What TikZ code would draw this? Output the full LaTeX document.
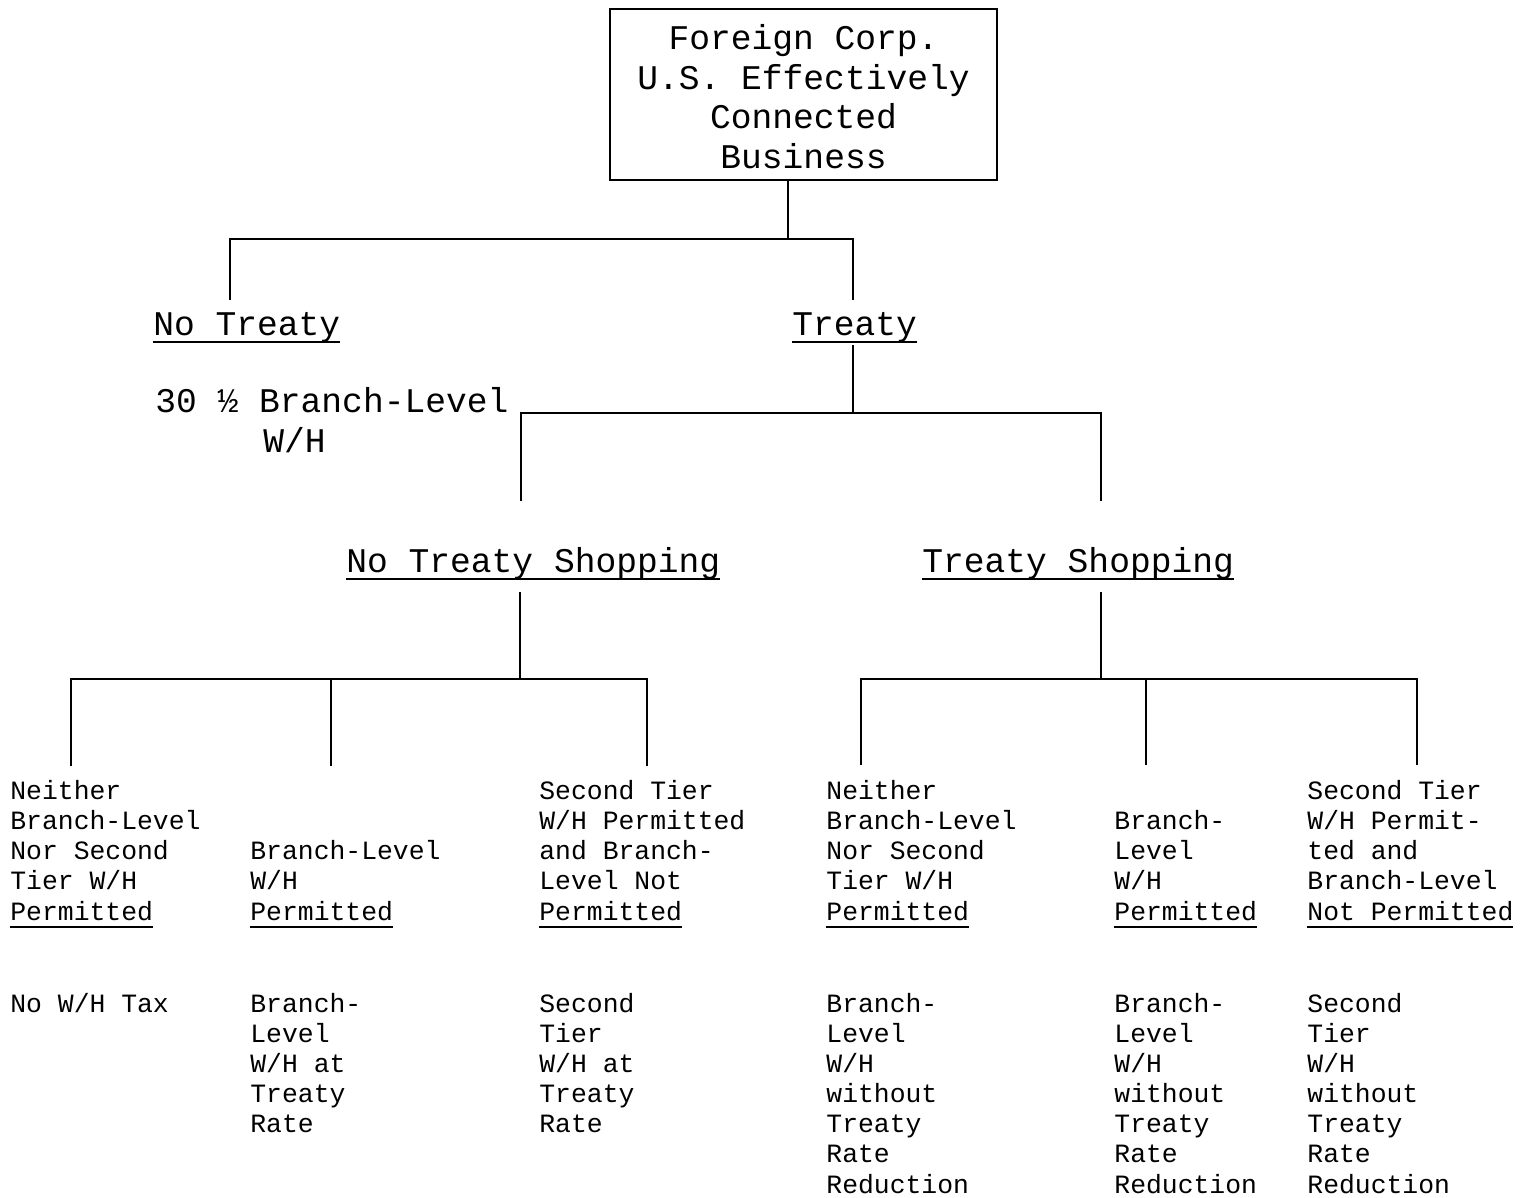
\documentclass[tikz,border=0pt]{standalone}
\usepackage{fontspec}
\setmainfont{Liberation Mono}
\newcommand\ulx[1]{\setbox0\hbox{#1}\rlap{\rule[-4pt]{\wd0}{1pt}}\box0}
\tikzset{
  big/.style={font=\fontsize{17.3}{19.8}\selectfont, inner sep=0pt, anchor=base west, align=left},
  small/.style={font=\fontsize{13.2}{15.08}\selectfont, inner sep=0pt, anchor=base west, align=left},
  conn/.style={line width=1pt},
}
\begin{document}
\begin{tikzpicture}[x=0.5pt,y=-0.5pt]
\useasboundingbox[fill=white] (0,0) rectangle (1530,1198);
% top box
\node[draw, line width=1pt, minimum width=193.5pt, minimum height=85.5pt, inner sep=0pt,
      font=\fontsize{17.3}{19.8}\selectfont, align=center, text depth=0pt] (box) at (803.5,94.5)
  {\rule{0pt}{14.5pt}Foreign Corp.\\U.S. Effectively\\Connected\\Business};
% level 1 (nodes placed at the baseline of their last line)
\node[big] (nt) at (153,335) {\ulx{No Treaty}};
\node[big] (tr) at (792,335) {\ulx{Treaty}};
\node[big] (rate) at (155,452) {30 ½ Branch-Level\\\hspace*{54pt}W/H};
% level 2
\node[big] (nts) at (346,572) {\ulx{No Treaty Shopping}};
\node[big] (ts) at (922,572) {\ulx{Treaty Shopping}};
% level 3 headers
\node[small] (h1) at (10,920) {Neither\\Branch-Level\\Nor Second\\Tier W/H\\\ulx{Permitted}};
\node[small] (h2) at (250,920) {Branch-Level\\W/H\\\ulx{Permitted}};
\node[small] (h3) at (539,920) {Second Tier\\W/H Permitted\\and Branch-\\Level Not\\\ulx{Permitted}};
\node[small] (h4) at (826,920) {Neither\\Branch-Level\\Nor Second\\Tier W/H\\\ulx{Permitted}};
\node[small] (h5) at (1114,920) {Branch-\\Level\\W/H\\\ulx{Permitted}};
\node[small] (h6) at (1307,920) {Second Tier\\W/H Permit-\\ted and\\Branch-Level\\\ulx{Not Permitted}};
% results
\node[small] (r1) at (10,1012) {No W/H Tax};
\node[small] (r2) at (250,1132.7) {Branch-\\Level\\W/H at\\Treaty\\Rate};
\node[small] (r3) at (539,1132.7) {Second\\Tier\\W/H at\\Treaty\\Rate};
\node[small] (r4) at (826,1193) {Branch-\\Level\\W/H\\without\\Treaty\\Rate\\Reduction};
\node[small] (r5) at (1114,1193) {Branch-\\Level\\W/H\\without\\Treaty\\Rate\\Reduction};
\node[small] (r6) at (1307,1193) {Second\\Tier\\W/H\\without\\Treaty\\Rate\\Reduction};
% connector coordinates
\coordinate (j0) at (788,239);
\coordinate (c1) at (230,300);
\coordinate (c2) at (853,300);
\coordinate (t1) at (853,345);
\coordinate (b1) at (853,413);
\coordinate (d1) at (521,501);
\coordinate (d2) at (1101,501);
\coordinate (s1) at (520,592);
\coordinate (k1) at (520,679);
\coordinate (e1) at (71,766);
\coordinate (e2) at (331,766);
\coordinate (e3) at (647,766);
\coordinate (s2) at (1101,592);
\coordinate (k2) at (1101,679);
\coordinate (f1) at (861,765);
\coordinate (f2) at (1146,765);
\coordinate (f3) at (1417,765);
% connectors
\draw[conn] (box.south -| j0) -- (j0);
\draw[conn] (c1) |- (j0) -| (c2);
\draw[conn] (t1) -- (b1);
\draw[conn] (d1) |- (b1) -| (d2);
\draw[conn] (s1) -- (k1);
\draw[conn] (e1) |- (k1) -| (e3);
\draw[conn] (e2) -- (e2 |- k1);
\draw[conn] (s2) -- (k2);
\draw[conn] (f1) |- (k2) -| (f3);
\draw[conn] (f2) -- (f2 |- k2);
\end{tikzpicture}
\end{document}
